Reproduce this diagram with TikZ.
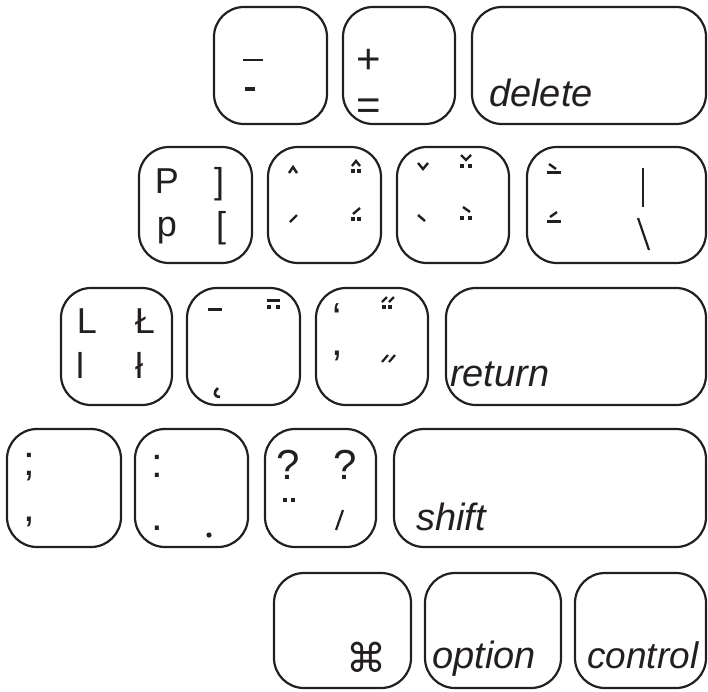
\documentclass[tikz,border=0pt]{standalone}
\usepackage{fontspec}
\setmainfont{Liberation Sans}
\newfontfamily\symfont{DejaVu Sans}
\definecolor{ink}{RGB}{35,31,32}
\tikzset{
  key/.style={draw=ink, line width=2.2pt, rounded corners=30pt, inner sep=0pt, rectangle},
  sym/.style={inner sep=0pt, anchor=base, text=ink, font=\fontsize{36}{36}\selectfont},
  bigsym/.style={inner sep=0pt, anchor=base, text=ink, font=\fontsize{42}{42}\selectfont},
  word/.style={inner sep=0pt, anchor=base west, text=ink, font=\fontsize{38}{38}\selectfont\itshape},
  diac/.style={draw=ink, line width=2.4pt},
  thickbar/.style={draw=ink, line width=3pt}
}
\newcommand\kdot[2]{\fill[ink] (#1-1.6,#2-1.6) rectangle (#1+1.6,#2+1.6);}
\begin{document}
\begin{tikzpicture}[x=1pt,y=-1pt]
\useasboundingbox (0,0) rectangle (708,691);
% ---------- row 1
\node[key, minimum width=113pt, minimum height=117pt] (kminus) at (270.5,65.5) {};
\node[key, minimum width=112pt, minimum height=117pt] (kplus) at (399,65.5) {};
\node[key, minimum width=234pt, minimum height=117pt] (kdelete) at (589,65.5) {};
\draw[thickbar, line width=2.6pt] (243,60) -- (263,60);
\draw[draw=ink, line width=3.4pt] (245,89) -- (255,89);
\node[bigsym] (tplus) at (369,73) {+};
\node[bigsym] (teq) at (369,119) {=};
\node[word] (tdelete) at (489,106) {delete};
% ---------- row 2
\node[key, minimum width=113pt, minimum height=116pt] (kp) at (195.5,205) {};
\node[key, minimum width=113pt, minimum height=116pt] (kcirc) at (324.5,205) {};
\node[key, minimum width=112pt, minimum height=116pt] (kcaron) at (453,205) {};
\node[key, minimum width=179pt, minimum height=116pt] (kbslash) at (616.5,205) {};
\node[sym] (tP) at (167,193) {P};
\node[sym] (trb) at (219,193) {]};
\node[sym] (tp) at (167,236) {p};
\node[sym] (tlb) at (221,237) {[};
% circumflex key
\draw[diac] (289,173) -- (293,167) -- (297,173);
\draw[diac] (352,166) -- (356,161) -- (360,166);
\kdot{353}{171}\kdot{359}{171}
\draw[diac] (290,222) -- (297,215);
\draw[diac] (353,214) -- (360,208);
\kdot{353}{219}\kdot{359}{219}
% caron key
\draw[diac] (418,163) -- (423,169) -- (428,163);
\draw[diac] (461,155) -- (466,160) -- (471,155);
\kdot{462}{166}\kdot{470}{166}
\draw[diac] (418,215) -- (425,221);
\draw[diac] (463,207) -- (470,212);
\kdot{462}{218}\kdot{470}{218}
% backslash key
\draw[diac] (549,164) -- (556,169);
\draw[thickbar] (547,172.5) -- (561,172.5);
\draw[diac] (557,212) -- (550,217);
\draw[thickbar] (547,221) -- (561,221);
\draw[diac] (643,168) -- (643,207);
\draw[diac, line width=2.2pt] (638,218) -- (649,250);
% ---------- row 3
\node[key, minimum width=111pt, minimum height=117pt] (kl) at (116.5,346.5) {};
\node[key, minimum width=113pt, minimum height=117pt] (kmacron) at (243.5,346.5) {};
\node[key, minimum width=112pt, minimum height=117pt] (kquote) at (372,346.5) {};
\node[key, minimum width=260pt, minimum height=117pt] (kreturn) at (576,346.5) {};
\node[sym] (tL) at (87,333) {L};
\node[sym] (tLs) at (145,333) {Ł};
\node[sym] (tl) at (80,378) {l};
\node[sym] (tls) at (139,378) {ł};
\draw[thickbar] (208,309) -- (222,309);
\draw[thickbar] (267,300) -- (280,300);
\kdot{269}{307}\kdot{278}{307}
\draw[diac, line width=2.6pt] (218,388) .. controls (213,392) and (214,397) .. (220,397);
\node[bigsym, anchor=north, align=center, font=\fontsize{42}{23.3}\selectfont] (tquote) at (337,303) {‘\\,};
\draw[diac, line width=2.2pt] (382,302) -- (387,297);
\draw[diac, line width=2.2pt] (389,302) -- (394,297);
\kdot{384}{307}\kdot{390}{307}
\draw[diac, line width=2.2pt] (382,362) -- (388,355);
\draw[diac, line width=2.2pt] (389,362) -- (395,355);
\node[word] (treturn) at (450,386) {return};
% ---------- row 4
\node[key, minimum width=114pt, minimum height=118pt] (ksemi) at (64,488) {};
\node[key, minimum width=113pt, minimum height=118pt] (kcolon) at (191.5,488) {};
\node[key, minimum width=111pt, minimum height=118pt] (kquest) at (320.5,488) {};
\node[key, minimum width=312pt, minimum height=118pt] (kshift) at (550,488) {};
\node[bigsym] (tsemi) at (29,475) {;};
\node[bigsym] (tcom2) at (29,521) {,};
\node[bigsym] (tcolon) at (157,477) {:};
\node[bigsym] (tdot) at (157,530) {.};
\fill[ink] (209,535) circle (2.6pt);
\node[bigsym] (tq1) at (288,479) {?};
\node[bigsym] (tq2) at (345,479) {?};
\kdot{285}{500}\kdot{293}{500}
\draw[diac, line width=2.2pt] (336,530) -- (343,510);
\node[word] (tshift) at (416,530) {shift};
% ---------- row 5
\node[key, minimum width=137pt, minimum height=115pt] (kcmd) at (342.5,630.5) {};
\node[key, minimum width=136pt, minimum height=115pt] (koption) at (493,630.5) {};
\node[key, minimum width=131pt, minimum height=115pt] (kcontrol) at (640.5,630.5) {};
\node[inner sep=0pt, anchor=base, text=ink, font=\symfont\fontsize{40}{40}\selectfont] (tcmd) at (366,672) {⌘};
\node[word] (toption) at (432,668) {option};
\node[word, font=\fontsize{37}{37}\selectfont\itshape] (tcontrol) at (587,668) {control};
\end{tikzpicture}
\end{document}
